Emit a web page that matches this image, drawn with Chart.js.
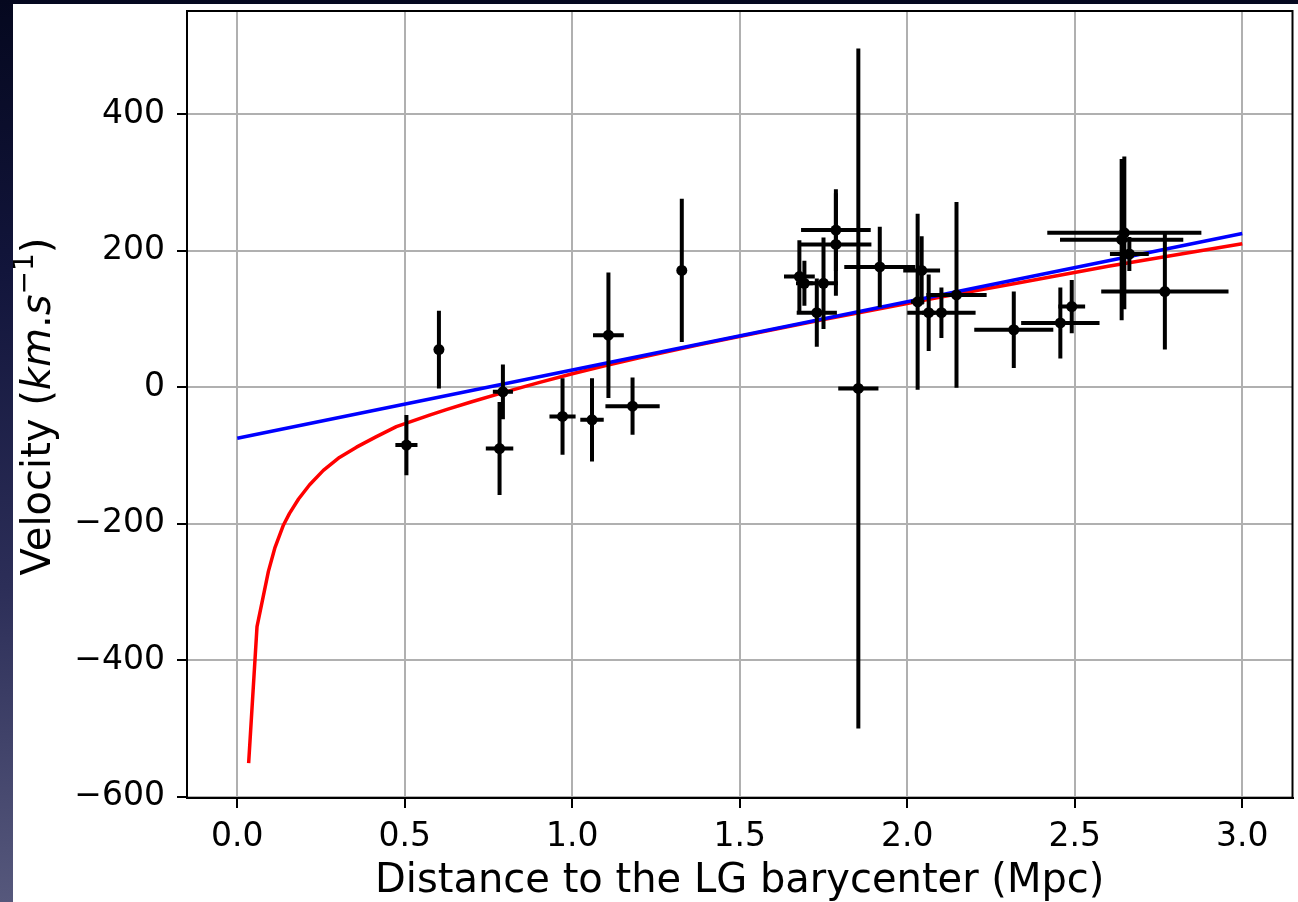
<!DOCTYPE html>
<html>
<head>
<meta charset="utf-8">
<script src="https://cdn.jsdelivr.net/npm/chart.js@4/dist/chart.umd.min.js"></script>
<style>
  html, body { margin: 0; padding: 0; width: 1298px; height: 902px; overflow: hidden; }
  body { background: linear-gradient(180deg, #05081f 0%, #12153b 30%, #2c2e58 65%, #56587c 100%); }
  #panel { position: absolute; left: 13px; top: 4px; width: 1285px; height: 898px; background: #ffffff; }
  canvas { display: block; }
</style>
</head>
<body>
<div id="panel"><canvas id="chart" width="1285" height="898"></canvas></div>
<script>
// Axis ticks
const xTicks = [0, 0.5, 1.0, 1.5, 2.0, 2.5, 3.0];
const xTickLabels = ['0.0', '0.5', '1.0', '1.5', '2.0', '2.5', '3.0'];
const yTicks = [-600, -400, -200, 0, 200, 400];
const yTickLabels = ['\u2212600', '\u2212400', '\u2212200', '0', '200', '400'];

// Galaxies: distance to the LG barycenter (Mpc) and velocity (km/s), with 1-sigma errors
const distance    = [0.505, 0.602, 0.793, 0.783, 0.971, 1.059, 1.108, 1.180, 1.327,
                     1.678, 1.693, 1.750, 1.730, 1.787, 1.787, 1.918, 1.854,
                     2.031, 2.043, 2.064, 2.102, 2.147, 2.318, 2.457, 2.491,
                     2.648, 2.640, 2.663, 2.769];
const velocity    = [-85, 55, -7, -90, -43, -48, 76, -28, 171,
                     162, 152, 152, 109, 230, 209, 176, -2,
                     125, 171, 109, 109, 135, 84, 94, 118,
                     226, 216, 195, 140];
const distanceErr = [0.033, 0.008, 0.030, 0.041, 0.039, 0.035, 0.046, 0.081, 0.008,
                     0.046, 0.025, 0.043, 0.060, 0.104, 0.106, 0.106, 0.060,
                     0.020, 0.055, 0.020, 0.102, 0.090, 0.118, 0.117, 0.040,
                     0.230, 0.184, 0.058, 0.190];
const velocityErr = [44, 57, 40, 68, 56, 61, 92, 42, 105,
                     53, 33, 67, 50, 60, 75, 59, 498,
                     129, 50, 56, 37, 136, 56, 52, 39,
                     112, 118, 25, 85];

// Model curve (red)
const modelDistance = [0.034, 0.059, 0.093, 0.112, 0.138, 0.156, 0.183, 0.216, 0.257,
                       0.305, 0.356, 0.414, 0.475, 0.505, 0.574, 0.624, 0.700, 0.793,
                       0.900, 1.000, 1.100, 1.200, 1.378, 1.557, 1.750, 1.914, 2.100,
                       2.330, 2.600, 2.866, 3.000];
const modelVelocity = [-551, -351, -270, -236, -202, -185, -164, -143, -122,
                       -103, -88, -73, -58, -52.7, -41, -33, -21.5, -8,
                       6.5, 19.5, 31.5, 43, 62, 80, 99, 114.5, 132,
                       152.5, 177, 199, 210];

// Linear fit (blue)
const fitDistance = [0.0, 3.0];
const fitVelocity = [-75, 225];

const FONT = "'DejaVu Sans', 'Liberation Sans', sans-serif";
const TICK_SIZE = 33;
const LABEL_SIZE = 40;

const toPoints = (xs, ys) => xs.map((x, i) => ({ x: x, y: ys[i] }));

// Error bars behind the markers
const errorBars = {
  id: 'errorBars',
  beforeDatasetDraw(chart, args) {
    if (args.index !== 0) return;
    const { ctx, chartArea: a, scales: { x, y } } = chart;
    ctx.save();
    ctx.beginPath();
    ctx.rect(a.left, a.top, a.right - a.left, a.bottom - a.top);
    ctx.clip();
    ctx.strokeStyle = '#000000';
    ctx.lineWidth = 4;
    ctx.lineCap = 'butt';
    distance.forEach((d, i) => {
      const v = velocity[i];
      const px = x.getPixelForValue(d);
      const py = y.getPixelForValue(v);
      ctx.beginPath();
      ctx.moveTo(x.getPixelForValue(d - distanceErr[i]), py);
      ctx.lineTo(x.getPixelForValue(d + distanceErr[i]), py);
      ctx.moveTo(px, y.getPixelForValue(v - velocityErr[i]));
      ctx.lineTo(px, y.getPixelForValue(v + velocityErr[i]));
      ctx.stroke();
    });
    ctx.restore();
  }
};

// Axes frame and axis titles
const frameAndTitles = {
  id: 'frameAndTitles',
  afterDraw(chart) {
    const { ctx, chartArea: a } = chart;
    ctx.save();
    ctx.strokeStyle = '#000000';
    ctx.lineWidth = 2;
    ctx.strokeRect(a.left, a.top, a.right - a.left, a.bottom - a.top);

    ctx.fillStyle = '#000000';
    ctx.textBaseline = 'alphabetic';

    // x title
    ctx.font = LABEL_SIZE + 'px ' + FONT;
    ctx.textAlign = 'center';
    ctx.fillText('Distance to the LG barycenter (Mpc)', (a.left + a.right) / 2, 888);

    // y title with italic units and superscript
    const reg = LABEL_SIZE + 'px ' + FONT;
    const ita = 'italic ' + LABEL_SIZE + 'px ' + FONT;
    const sup = Math.round(LABEL_SIZE * 0.7) + 'px ' + FONT;
    const parts = [
      { t: 'Velocity (', f: reg, dy: 0 },
      { t: 'km', f: ita, dy: 0 },
      { t: '.', f: reg, dy: 0 },
      { t: 's', f: ita, dy: 0 },
      { t: '\u22121', f: sup, dy: -LABEL_SIZE * 0.42 },
      { t: ')', f: reg, dy: 0 }
    ];
    let total = 0;
    parts.forEach(p => { ctx.font = p.f; p.w = ctx.measureText(p.t).width; total += p.w; });
    ctx.translate(36.5, (a.top + a.bottom) / 2 + 2);
    ctx.rotate(-Math.PI / 2);
    ctx.textAlign = 'left';
    let cx = -total / 2;
    parts.forEach(p => { ctx.font = p.f; ctx.fillText(p.t, cx, p.dy); cx += p.w; });
    ctx.restore();
  }
};

new Chart(document.getElementById('chart'), {
  type: 'scatter',
  data: {
    datasets: [
      {
        label: 'Galaxies',
        data: toPoints(distance, velocity),
        pointRadius: 5.5,
        pointBackgroundColor: '#000000',
        pointBorderWidth: 0,
        showLine: false
      },
      {
        label: 'Linear fit',
        data: toPoints(fitDistance, fitVelocity),
        showLine: true,
        borderColor: '#0000ff',
        borderWidth: 3.5,
        pointRadius: 0,
        tension: 0
      },
      {
        label: 'Model',
        data: toPoints(modelDistance, modelVelocity),
        showLine: true,
        borderColor: '#ff0000',
        borderWidth: 3.5,
        pointRadius: 0,
        tension: 0,
        borderJoinStyle: 'round'
      }
    ]
  },
  options: {
    responsive: false,
    animation: false,
    events: [],
    layout: { padding: { top: 7, right: 3, left: 0, bottom: 0 } },
    plugins: { legend: { display: false }, tooltip: { enabled: false } },
    scales: {
      x: {
        type: 'linear',
        min: -0.15,
        max: 3.15,
        afterBuildTicks: ax => { ax.ticks = xTicks.map(v => ({ value: v })); },
        afterFit: ax => { ax.height = 104; ax.paddingLeft = 0; ax.paddingRight = 0; },
        ticks: {
          callback: (v, i) => xTickLabels[i],
          font: { family: FONT, size: TICK_SIZE },
          color: '#000000',
          padding: 10,
          maxRotation: 0,
          autoSkip: false
        },
        grid: { color: '#b0b0b0', lineWidth: 2, tickColor: '#000000', tickWidth: 2, tickLength: 10 },
        border: { color: '#000000', width: 2 }
      },
      y: {
        type: 'linear',
        min: -602,
        max: 551,
        afterBuildTicks: ax => { ax.ticks = yTicks.map(v => ({ value: v })); },
        afterFit: ax => { ax.width = 174; ax.paddingTop = 0; ax.paddingBottom = 0; },
        ticks: {
          callback: (v, i) => yTickLabels[i],
          font: { family: FONT, size: TICK_SIZE },
          color: '#000000',
          padding: 12,
          autoSkip: false
        },
        grid: { color: '#b0b0b0', lineWidth: 2, tickColor: '#000000', tickWidth: 2, tickLength: 10 },
        border: { color: '#000000', width: 2 }
      }
    }
  },
  plugins: [errorBars, frameAndTitles]
});
</script>
</body>
</html>
